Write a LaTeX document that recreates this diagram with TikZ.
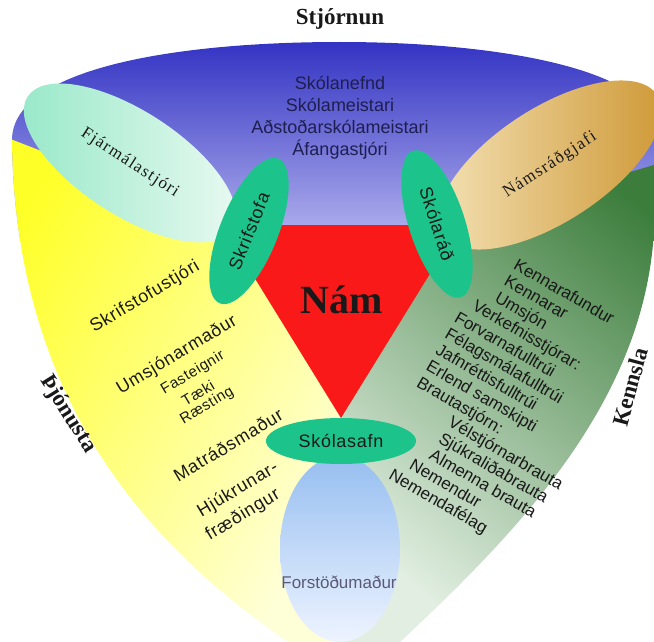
\documentclass[tikz,border=0pt]{standalone}
\usepackage{fontspec}
\setmainfont{Liberation Serif}
\setsansfont{Liberation Sans}
\newfontfamily\rammi[LetterSpace=4]{Liberation Sans}
\newfontfamily\bil[LetterSpace=8]{Liberation Serif}
\usepackage{xcolor}
\usepackage{tikz}
\definecolor{navy}{RGB}{50,50,195}
\definecolor{lavender}{RGB}{178,178,238}
\definecolor{lemon}{RGB}{255,255,40}
\definecolor{cream}{RGB}{255,255,215}
\definecolor{forest}{RGB}{60,125,60}
\definecolor{mint}{RGB}{225,238,225}
\definecolor{aqua}{RGB}{150,232,200}
\definecolor{paleaqua}{RGB}{235,250,242}
\definecolor{sand}{RGB}{245,228,185}
\definecolor{gold}{RGB}{205,150,50}
\definecolor{teal}{RGB}{28,196,140}
\definecolor{sky}{RGB}{150,190,240}
\definecolor{ice}{RGB}{238,244,255}
\definecolor{red}{RGB}{250,25,25}
\definecolor{ink}{RGB}{25,25,25}
\definecolor{navytext}{RGB}{30,30,80}
\definecolor{greytext}{RGB}{90,90,120}
\usetikzlibrary{shapes.geometric}

\tikzset{
    svid/.style={font=\bfseries\fontsize{23}{25}\selectfont, text=ink, inner sep=0pt},
    eining/.style={ellipse, fill=teal, inner sep=0pt, text=ink, font=\rammi\fontsize{18}{20}\selectfont},
    vinstri/.style={rotate=31, inner sep=0pt, text=ink, font=\rammi\fontsize{18}{20}\selectfont},
    smatt/.style={vinstri, font=\rammi\fontsize{15}{17}\selectfont}
}

\begin{document}
\begin{tikzpicture}[x=1pt,y=-1pt]
    \useasboundingbox (0,0) rectangle (654,642);
    \clip (0,0) rectangle (654,642);

    % Three areas inside the outline
    \begin{scope}
        \clip (12,140) .. controls (12,70) and (170,42) .. (340,42)
            .. controls (500,42) and (654,70) .. (654,130) -- (654,230)
            .. controls (645,400) and (520,530) .. (400,642) -- (288,642)
            .. controls (170,560) and (15,420) .. (12,140) -- cycle;
        \shade[top color=navy, bottom color=lavender] (0,40) rectangle (654,240);
        \begin{scope}
            \clip (0,135) -- (235,226) -- (341,226) -- (341,642) -- (0,642) -- cycle;
            \shade[top color=lemon, bottom color=cream, shading angle=60] (0,100) rectangle (341,642);
        \end{scope}
        \begin{scope}
            \clip (654,165) -- (445,226) -- (341,226) -- (341,642) -- (654,642) -- cycle;
            \shade[top color=forest, bottom color=mint, shading angle=-40] (341,100) rectangle (654,642);
        \end{scope}
    \end{scope}

    % Library ellipse at the bottom
    \node[ellipse, minimum width=120, minimum height=186, inner sep=0pt, top color=sky, bottom color=ice] (bokasafn) at (340,549) {};

    % Centre triangle
    \fill[red] (222,225) -- (460,225) -- (341,418) -- cycle;

    % Large side ellipses
    \node[ellipse, minimum width=244, minimum height=104, rotate=-33, left color=aqua, right color=paleaqua,
        text=ink, font=\bil\fontsize{17}{19}\selectfont] (fjarmal) at (130,163) {Fjármálastjóri};
    \node[ellipse, minimum width=256, minimum height=114, rotate=33, left color=sand, right color=gold,
        text=ink, font=\bil\fontsize{17}{19}\selectfont] (namsrad) at (550,165) {Námsráðgjafi};

    % Small units
    \node[eining, minimum width=156, minimum height=58, rotate=68] (skrifstofa) at (249,231) {Skrifstofa};
    \node[eining, minimum width=154, minimum height=56, rotate=-72] (skolarad) at (437,224) {Skólaráð};
    \node[eining, minimum width=150, minimum height=46] (skolasafn) at (341,441) {Skólasafn};

    % Section names
    \node[svid] (stjornun) at (340,19) {Stjórnun};
    \node[svid, rotate=-58] (thjonusta) at (68,414) {Þjónusta};
    \node[svid, rotate=75] (kennsla) at (630,387) {Kennsla};
    \node[font=\bfseries\fontsize{40}{44}\selectfont, text=ink, inner sep=0pt] (nam) at (342,300) {Nám};

    % Management
    \node[align=center, inner sep=0pt, text=navytext, font=\sffamily\fontsize{18}{22}\selectfont] (stjorn) at (340,118)
        {Skólanefnd\\Skólameistari\\Aðstoðarskólameistari\\Áfangastjóri};

    % Service staff
    \node[vinstri] (skrifstjori) at (145,297) {Skrifstofustjóri};
    \node[vinstri] (umsjon) at (177,355) {Umsjónarmaður};
    \node[smatt] (fasteignir) at (193,373) {Fasteignir};
    \node[smatt] (taeki) at (198,393) {Tæki};
    \node[smatt] (raesting) at (207,406) {Ræsting};
    \node[vinstri] (matrad) at (228,445) {Matráðsmaður};
    \node[vinstri] (hjukrun) at (238,490) {Hjúkrunar-};
    \node[vinstri] (fraedingur) at (243,515) {fræðingur};

    % Teaching
    \node[rotate=-30, anchor=north west, align=left, inner sep=0pt, text=ink,
        font=\sffamily\fontsize{17}{18.8}\selectfont] (kennslulisti) at (497,245)
        {\hspace*{25pt}Kennarafundur\\
         \hspace*{25pt}Kennarar\\
         \hspace*{25pt}Umsjón\\
         \hspace*{10pt}Verkefnisstjórar:\\
         Forvarnafulltrúi\\
         Félagsmálafulltrúi\\
         Jafnréttisfulltrúi\\
         Erlend samskipti\\
         Brautastjórn:\\
         \hspace*{47pt}Vélstjórnarbrauta\\
         \hspace*{47pt}Sjúkraliðabrauta\\
         \hspace*{47pt}Almenna brauta\\
         \hspace*{35pt}Nemendur\\
         \hspace*{22pt}Nemendafélag};

    \node[inner sep=0pt, text=greytext, font=\sffamily\fontsize{17}{19}\selectfont] (forstodu) at (339,582) {Forstöðumaður};
\end{tikzpicture}
\end{document}
